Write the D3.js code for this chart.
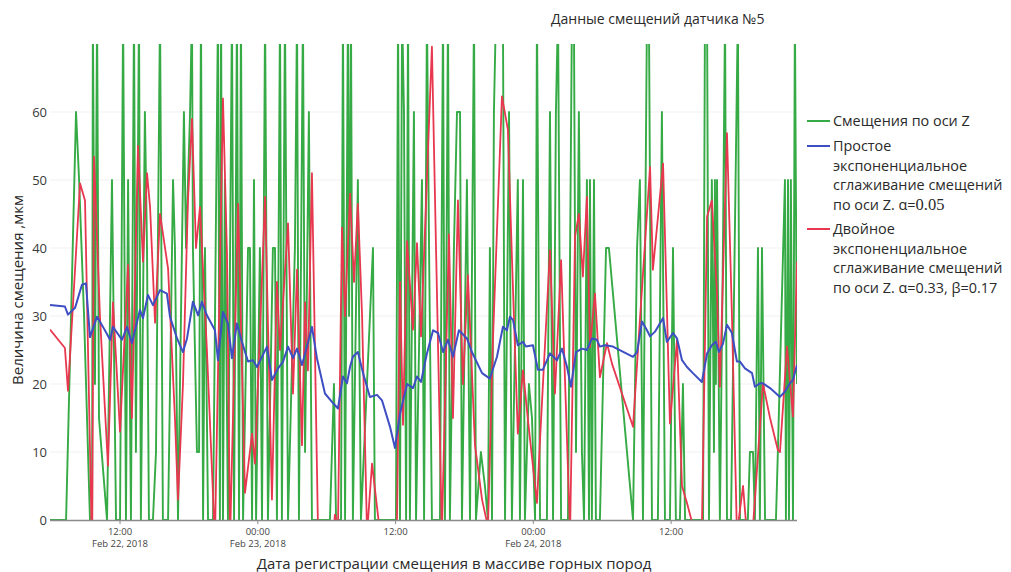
<!DOCTYPE html>
<html><head><meta charset="utf-8">
<script src="https://cdn.jsdelivr.net/npm/d3@7/dist/d3.min.js"></script>
<style>
html,body{margin:0;padding:0;background:#fff;}
text{font-family:"Open Sans","Noto Sans",sans-serif;}
</style></head>
<body><svg id="c" width="1011" height="572"></svg>
<script>
// minutes since 2018-02-22 00:00
const greenTime = [354,427,438,490,506,532,563,574,578,589,600,610,652,678,699,720,736,751,762,777,793,803,819,829,850,861,871,892,908,929,944,971,997,1007,1023,1054,1065,1086,1096,1101,1122,1133,1143,1154,1164,1180,1206,1232,1242,1248,1258,1268,1284,1305,1316,1331,1342,1352,1363,1389,1399,1410,1420,1431,1451,1462,1478,1493,1519,1530,1540,1556,1566,1582,1598,1634,1645,1655,1676,1687,1707,1723,1817,1838,1849,1875,1885,1896,1911,1917,1927,1937,1963,1979,2042,2052,2162,2173,2183,2194,2204,2215,2225,2235,2256,2267,2298,2309,2324,2335,2350,2392,2408,2418,2434,2444,2465,2481,2497,2507,2533,2549,2570,2580,2606,2627,2643,2653,2664,2674,2685,2700,2711,2721,2732,2753,2768,2799,2810,2826,2836,2857,2873,2889,2899,2915,2951,2967,2983,2998,3009,3025,3061,3082,3092,3103,3118,3134,3145,3160,3171,3176,3186,3197,3207,3228,3260,3275,3401,3422,3437,3453,3474,3484,3500,3531,3552,3568,3594,3610,3625,3646,3662,3673,3767,3777,3788,3798,3813,3824,3829,3834,3840,3855,3871,3882,3892,3913,3949,3960,4001,4012,4028,4038,4054,4064,4075,4091,4148,4158,4195,4200,4211,4216,4226,4237,4247,4258];
const greenValue = [0,0,0,60,50,30,0,0,75,20,75,15,0,50,0,0,75,0,50,0,75,10,75,0,60,40,0,0,10,75,0,0,50,40,0,60,40,60,75,40,10,10,75,0,40,0,0,75,0,75,0,50,0,75,0,75,0,75,0,40,40,0,50,0,40,0,75,0,40,40,0,75,0,75,0,40,75,0,75,10,60,0,0,20,0,0,75,0,75,30,75,0,50,0,40,0,0,75,0,75,60,0,75,0,60,0,50,0,75,40,0,0,75,0,75,0,40,60,60,0,50,0,75,0,10,5,0,40,0,60,75,75,75,75,0,60,0,50,0,50,0,20,15,0,75,0,0,60,0,60,75,0,0,75,75,10,60,10,0,50,0,50,0,50,0,0,40,40,0,40,50,0,75,75,0,0,60,0,0,40,0,0,20,0,0,75,75,0,50,10,50,20,50,0,40,75,0,0,75,0,0,10,10,0,40,0,40,0,0,10,50,0,50,0,50,0,75,20];

const blueTime = [354,432,448,485,521,542,563,600,631,668,683,730,757,782,824,840,866,892,929,965,981,1018,1049,1070,1101,1128,1148,1174,1216,1232,1258,1284,1305,1331,1357,1389,1415,1436,1467,1488,1514,1546,1572,1598,1624,1645,1671,1697,1723,1749,1791,1833,1859,1885,1906,1922,1937,1963,1990,2026,2063,2089,2131,2157,2183,2220,2251,2272,2293,2324,2356,2382,2408,2434,2460,2491,2533,2559,2612,2653,2690,2721,2742,2758,2774,2799,2826,2841,2878,2904,2930,2967,3004,3030,3056,3077,3103,3134,3160,3186,3212,3228,3254,3296,3401,3422,3448,3474,3490,3516,3558,3578,3610,3631,3657,3683,3714,3761,3788,3813,3834,3850,3871,3892,3918,3944,3960,3986,4023,4038,4064,4080,4117,4169,4195,4221,4237,4258];
const blueValue = [31.6,31.4,30.2,31.2,34.6,34.8,26.9,29.9,28.4,26.5,28.4,26.5,28.4,26,30.9,29.7,33.1,31.6,33.8,33.3,29.9,26.7,24.7,26.7,32.1,30.1,32.1,30.1,27.9,23.5,30.6,28.9,23.8,28.9,26.2,23.3,23.5,22.5,24.3,25.5,20.6,22.3,23.3,25.5,23.8,25.2,22.8,25.5,28.4,23.8,18.6,17.2,16.4,21.1,20.1,22.5,24,24.7,21.6,18.1,18.4,17.6,13.7,10.6,15.6,20,19.4,21.1,20.3,24.5,27.9,27.5,24.7,26.5,24,27.9,26.7,24.7,21.6,20.8,24,28.4,27.9,29.9,29.4,25.7,26.2,25.5,25.7,22.1,22.1,24.5,23.5,25.2,22.5,19.6,24.7,25.2,25,26.7,26.5,25.5,25.7,25.5,24,24.7,29.2,27.9,27,27.7,29.7,26.2,27.5,26.7,23.5,22.5,21.6,20.3,24.5,25.7,26.2,24.7,25.9,28.7,27.5,23.3,23.3,22.3,21.6,19.6,20.1,20.1,19.4,18.1,18.9,20.1,20.6,22.8];

const redTime = [354,432,448,511,537,574,584,615,657,683,720,762,782,814,840,861,877,903,929,971,1007,1023,1049,1075,1096,1117,1138,1174,1216,1258,1279,1295,1337,1373,1410,1425,1478,1514,1540,1556,1598,1624,1645,1671,1687,1702,1723,1755,1817,1843,1859,1880,1896,1922,1943,1963,1985,2011,2037,2079,2131,2167,2183,2199,2220,2251,2272,2293,2350,2402,2439,2460,2486,2512,2538,2575,2612,2643,2669,2716,2747,2768,2799,2826,2852,2899,2915,2967,2993,3025,3072,3098,3118,3139,3160,3176,3202,3228,3265,3291,3401,3437,3490,3505,3558,3594,3631,3657,3683,3725,3761,3788,3813,3840,3855,3892,3918,3944,3976,3996,4028,4080,4117,4158,4169,4206,4237,4258];
const redValue = [28,25.3,19,49.5,47,-5,53.4,30,8,32,13,37.5,15,55,38,51,46,29,45,37,15,3,20,47,59,40,46,25,-3,62,39,-3,46.5,4,12.7,8.3,47.5,3,35,25,43.6,18.6,36.8,11,32,22,51,-2,-8,0.8,-1,43,30,48,35,46.5,30,-2,8.3,-2,-8,-1,35,14,41,28,40.7,27,69.6,-2,42,15,47,20,36,11,3,-1,26.5,62.3,57.4,38.7,12.7,22,14.7,2.5,11.8,39.7,18.6,38.2,-2,41.7,45,35.8,47.5,25.4,33.3,21,26,23,13.7,29.4,51.9,36.8,52.4,14.2,26.5,5,2.5,-2,-1,44.6,47,33.3,19.6,56.9,30,-2,5,-2,-1,20.1,15,10.3,10,25.5,15.2,38];

const yTicks = [0,10,20,30,40,50,60];
const xTickMinutes = [720,1440,2160,2880,3600];
const xTickTop = ["12:00","00:00","12:00","00:00","12:00"];
const xTickBottom = ["Feb 22, 2018","Feb 23, 2018","","Feb 24, 2018",""];

const title = "Данные смещений датчика №5";
const yTitle = "Величина смещения ,мкм";
const xTitle = "Дата регистрации смещения в массиве горных пород";
const legendGreen = ["Смещения по оси Z"];
const legendBlue = ["Простое","экспоненциальное","сглаживание смещений","по оси Z. α="];
const legendBlueAlpha = "0.05";
const legendRed = ["Двойное","экспоненциальное","сглаживание смещений","по оси Z. α=0.33, β=0.17"];

const cGreen = "#35aa45", cBlue = "#3d4fc2", cRed = "#e8384f";
const base = Date.UTC(2018,1,22,0,0);
const toDate = m => new Date(base + m*60000);

const svg = d3.select("#c");
const L = 50, R = 797, T = 44, B = 520;
const x = d3.scaleUtc().domain([toDate(354), toDate(4258)]).range([L, R]);
const y = d3.scaleLinear().domain([0,70]).range([B, T]);

svg.append("defs").append("clipPath").attr("id","clip")
  .append("rect").attr("x",L).attr("y",T).attr("width",R-L).attr("height",B-T);

svg.append("g").selectAll("line").data(yTicks.filter(d=>d>0)).join("line")
  .attr("x1",L).attr("x2",R).attr("y1",d=>y(d)).attr("y2",d=>y(d))
  .attr("stroke","#f1f1f1").attr("stroke-width",1);

svg.append("g").selectAll("text").data(yTicks).join("text")
  .attr("x",47).attr("y",d=>y(d)).attr("dy","0.35em").attr("text-anchor","end")
  .attr("font-size",13).attr("fill","#3a3a3a").text(d=>d);

const mk = (T_, V_) => T_.map((t,i)=>({t:toDate(t), v:V_[i]}));
const line = d3.line().x(d=>x(d.t)).y(d=>y(d.v));
const g = svg.append("g").attr("clip-path","url(#clip)");
g.append("path").datum(mk(greenTime,greenValue)).attr("d",line)
  .attr("fill","none").attr("stroke",cGreen).attr("stroke-width",1.9).attr("stroke-linejoin","round");
g.append("path").datum(mk(redTime,redValue)).attr("d",line)
  .attr("fill","none").attr("stroke",cRed).attr("stroke-width",1.8).attr("stroke-linejoin","round");
g.append("path").datum(mk(blueTime,blueValue)).attr("d",line)
  .attr("fill","none").attr("stroke",cBlue).attr("stroke-width",2).attr("stroke-linejoin","round");

svg.append("line").attr("x1",L).attr("x2",R).attr("y1",B+0.5).attr("y2",B+0.5)
  .attr("stroke","#8a8a8a").attr("stroke-width",1.5);
const xt = svg.append("g").selectAll("g").data(xTickMinutes).join("g")
  .attr("transform",d=>`translate(${x(toDate(d))},0)`);
xt.append("line").attr("y1",B).attr("y2",B+4).attr("stroke","#8a8a8a");
xt.append("text").attr("y",535).attr("text-anchor","middle").attr("font-size",9.5).attr("fill","#444")
  .text((d,i)=>xTickTop[i]);
xt.append("text").attr("y",547).attr("text-anchor","middle").attr("font-size",9.5).attr("fill","#444")
  .text((d,i)=>xTickBottom[i]);

svg.append("text").attr("x",551).attr("y",24).attr("font-size",14).attr("fill","#2a2a2a").text(title);
svg.append("text").attr("transform","translate(23,290) rotate(-90)").attr("text-anchor","middle")
  .attr("font-size",15).attr("fill","#2a2a2a").text(yTitle);
svg.append("text").attr("x",454).attr("y",569).attr("text-anchor","middle")
  .attr("font-size",15).attr("fill","#2a2a2a").text(xTitle);

const lg = svg.append("g");
const lx = 807, tx = 833, lh = 19.5;
function entry(y0, color, lines, alpha){
  lg.append("line").attr("x1",lx).attr("x2",lx+23).attr("y1",y0).attr("y2",y0)
    .attr("stroke",color).attr("stroke-width",2);
  lines.forEach((s,i)=>{
    const t = lg.append("text").attr("x",tx).attr("y",y0+i*lh).attr("dy","0.35em")
      .attr("font-size",14.4).attr("fill","#2a2a2a").text(s);
    if(alpha && i===lines.length-1){
      t.append("tspan").attr("font-family","'Liberation Serif','DejaVu Serif',serif").attr("font-size",16.5).text(alpha);
    }
  });
}
entry(121, cGreen, legendGreen);
entry(146, cBlue, legendBlue, legendBlueAlpha);
entry(229, cRed, legendRed);
</script></body></html>
